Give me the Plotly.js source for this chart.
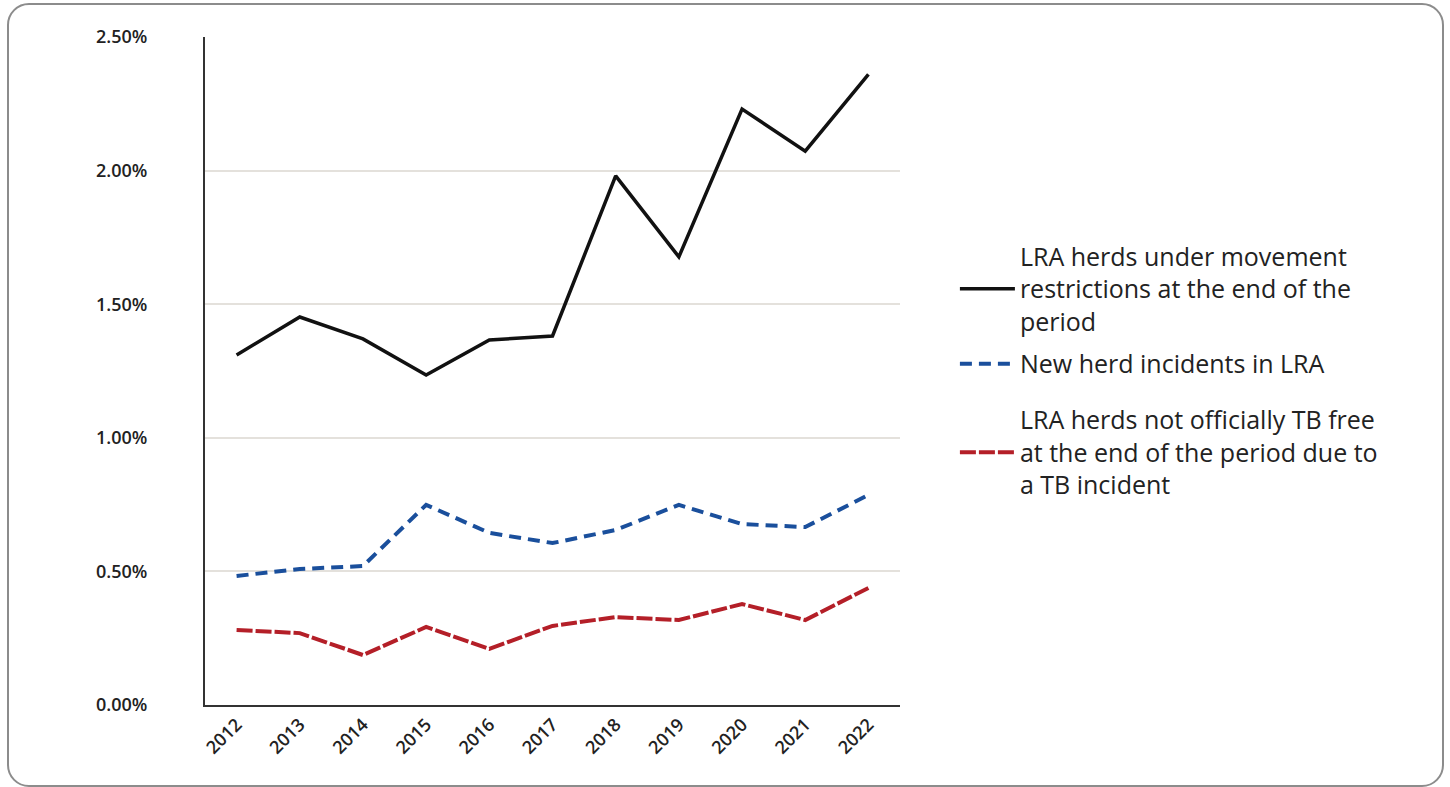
<!DOCTYPE html>
<html>
<head>
<meta charset="utf-8">
<script src="https://cdn.plot.ly/plotly-3.0.1.min.js"></script>
<style>
  body { margin: 0; background: #fff; }
  #chart { position: absolute; left: 0; top: 0; width: 1450px; height: 787px; }
  #frame { position: absolute; left: 7px; top: 3px; width: 1433px; height: 780px;
           border: 2px solid #8c8c8c; border-radius: 22px; pointer-events: none; }
</style>
</head>
<body>
<div id="chart"></div>
<div id="frame"></div>
<script>
// years and series (fractions, shown as %)
var years = ["2012", "2013", "2014", "2015", "2016", "2017", "2018", "2019", "2020", "2021", "2022"]
var underRestriction = [0.0131, 0.01452, 0.0137, 0.01235, 0.01366, 0.01381, 0.0198, 0.01677, 0.0223, 0.02073, 0.0236]
var newIncidents = [0.00483, 0.00509, 0.0052, 0.00749, 0.00644, 0.00606, 0.00655, 0.00749, 0.00677, 0.00666, 0.00786]
var notTbFree = [0.00281, 0.00269, 0.00187, 0.00292, 0.0021, 0.00296, 0.00329, 0.00318, 0.00378, 0.00318, 0.00438]

var names = [
  "LRA herds under movement<br>restrictions at the end of the<br>period",
  "New herd incidents in LRA",
  "LRA herds not officially TB free<br>at the end of the period due to<br>a TB incident"
]

var trace1 = {
  x: years, y: underRestriction, name: names[0], legendgroup: "a",
  type: 'scatter', mode: 'lines',
  line: { color: '#111111', width: 3.5 }
}
var trace2 = {
  x: years, y: newIncidents, name: names[1], legendgroup: "b",
  type: 'scatter', mode: 'lines',
  line: { color: '#1a4f9c', width: 4, dash: '12px,7px' }
}
var trace3 = {
  x: years, y: notTbFree, name: names[2], legend: 'legend2',
  type: 'scatter', mode: 'lines',
  line: { color: '#b41f28', width: 4, dash: '16px,3px' }
}

var legendFont = { size: 25, color: '#222222' }

var layout = {
  width: 1450,
  height: 787,
  margin: { l: 205, r: 550, t: 37, b: 82 },
  paper_bgcolor: '#ffffff',
  plot_bgcolor: '#ffffff',
  font: { family: '"Open Sans", "Noto Sans", sans-serif', color: '#222222' },
  showlegend: true,
  legend: {
    x: 1.079, xanchor: 'left', y: 0.706, yanchor: 'top',
    font: legendFont,
    itemwidth: 55,
    tracegroupgap: 7,
    bgcolor: 'rgba(0,0,0,0)'
  },
  legend2: {
    x: 1.079, xanchor: 'left', y: 0.378, yanchor: 'middle',
    font: legendFont,
    itemwidth: 55,
    bgcolor: 'rgba(0,0,0,0)'
  },
  xaxis: {
    type: 'category',
    range: [-0.5, 10.5],
    tickangle: -45,
    tickfont: { size: 18, weight: 600, color: '#222222' },
    showline: true, linecolor: '#333333', linewidth: 2,
    showgrid: false, ticks: '', zeroline: false
  },
  yaxis: {
    range: [0, 0.025],
    tickvals: [0, 0.005, 0.01, 0.015, 0.02, 0.025],
    tickformat: '.2%',
    tickfont: { size: 18, weight: 600, color: '#222222' },
    ticklabelstandoff: 52,
    showline: true, linecolor: '#333333', linewidth: 2,
    showgrid: true, gridcolor: '#e4e1dc', gridwidth: 2,
    zeroline: false, ticks: ''
  }
}

Plotly.newPlot('chart', [trace1, trace2, trace3], layout, { displayModeBar: false })
</script>
</body>
</html>
